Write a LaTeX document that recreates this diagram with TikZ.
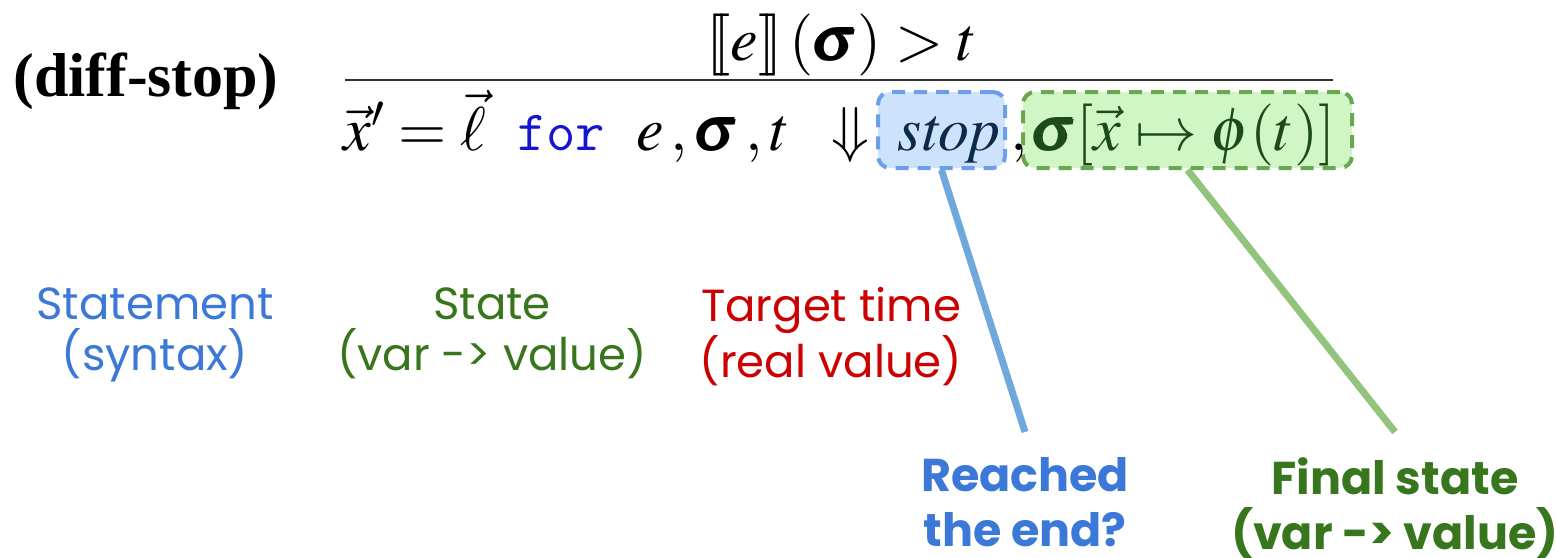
\documentclass[tikz,border=0pt]{standalone}
\usepackage{amsmath}
\usepackage{mathptmx}
\usepackage[no-math]{fontspec}
\setmainfont{Liberation Serif}
\newfontfamily\labelfont{Poppins}
\providecommand{\llbracket}{[\mkern-3mu[}
\providecommand{\rrbracket}{]\mkern-3mu]}
\newcommand{\bsig}{\pmb{\sigma}}

\definecolor{lblue}{HTML}{3C78D8}
\definecolor{lgreen}{HTML}{38761D}
\definecolor{lred}{HTML}{CC0000}
\definecolor{kwblue}{HTML}{1414D2}
\definecolor{stopfill}{HTML}{CCE3FB}
\definecolor{stopedge}{HTML}{6D9EEB}
\definecolor{stoptext}{HTML}{0E2A4A}
\definecolor{statefill}{HTML}{D0F6C6}
\definecolor{stateedge}{HTML}{6AA84F}
\definecolor{statetext}{HTML}{1D4A1A}
\definecolor{linkblue}{HTML}{6FA8DC}
\definecolor{linkgreen}{HTML}{93C47D}

\begin{document}
\begin{tikzpicture}[x=0.5pt,y=-0.5pt,
  rule/.style={font=\fontsize{31}{37}\selectfont, inner sep=0pt},
  hilite/.style={dash pattern=on 6.5pt off 4.5pt, line width=2pt,
                 rounded corners=6pt, inner sep=0pt},
  toplabel/.style={font=\labelfont\fontsize{22.5}{25.5}\selectfont,
                   align=center, inner sep=0pt, anchor=north},
  botlabel/.style={font=\labelfont\bfseries\fontsize{23}{27.5}\selectfont,
                   align=center, inner sep=0pt, anchor=north},
  link/.style={line width=3.5pt}]
\useasboundingbox (0,0) rectangle (1556,557);

% rule name
\node[rule, anchor=base west] (name) at (13,96) {\bfseries (diff-stop)};

% premise and rule bar
\node[rule, anchor=base] (premise) at (842,60)
  {$\llbracket e\rrbracket\,(\bsig) > t$};
\draw[line width=1.3pt, black!80] (345,80) -- (1333,80);

% highlight boxes behind the conclusion parts
\node[hilite, fill=stopfill, draw=stopedge,
      minimum width=63.5pt, minimum height=38pt] (stop) at (941.5,130) {};
\node[hilite, fill=statefill, draw=stateedge,
      minimum width=164.5pt, minimum height=38pt] (state) at (1187.5,130) {};

% conclusion
\node[rule, anchor=base west] (lhs) at (343,150)
  {$\vec{x}' = \vec{\ell}$\ \ {\color{kwblue}\ttfamily\fontsize{28.5}{31}\selectfont for}\ \ $e\,,\bsig\,,t\;\;\Downarrow$};
\node[rule, anchor=base west, text=stoptext] (stoptxt) at (897,150) {$\mathit{stop}$};
\node[rule, anchor=base west] (comma) at (1010,150) {$,$};
\node[rule, anchor=base west, text=statetext] (statetxt) at (1032,150)
  {$\bsig[\vec{x}\mapsto\phi(t)]$};

% explanatory labels
\node[toplabel, text=lblue] (stmt) at (155,287) {Statement\\(syntax)};
\node[toplabel, text=lgreen] (stlab) at (492,287) {State\\(var -> value)};
\node[toplabel, text=lred] (time) at (831,287) {Target time\\(real value)};
\node[botlabel, text=lblue] (reach) at (1025,457) {Reached\\the end?};
\node[botlabel, text=lgreen] (final) at (1395,457) {Final state\\(var -> value)};

% leader lines
\draw[link, linkblue] (stop.south) -- ([yshift=12.5pt]reach.north);
\draw[link, linkgreen] (state.south) -- ([yshift=12.5pt]final.north);
\end{tikzpicture}
\end{document}
